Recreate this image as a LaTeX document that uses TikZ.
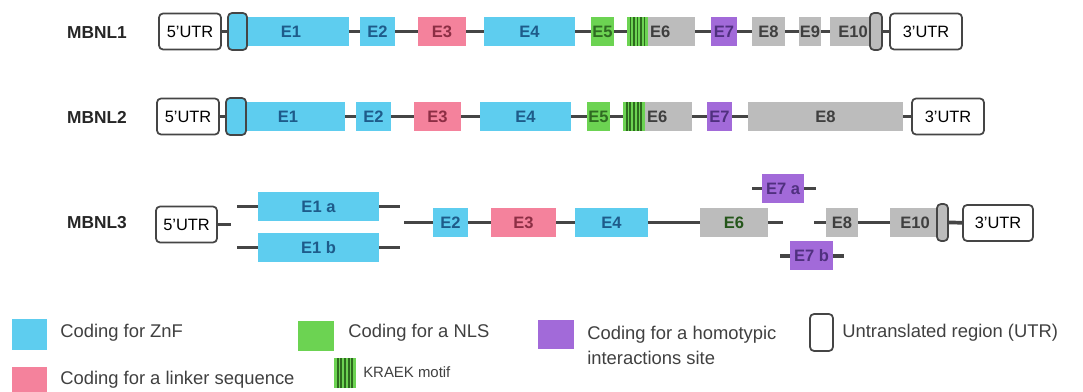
\documentclass[tikz,border=0pt]{standalone}
\usepackage{fontspec}
\setmainfont{Liberation Sans}
\usetikzlibrary{calc}
\definecolor{zfblue}{HTML}{5ECDEF}
\definecolor{zftext}{HTML}{1E5B8A}
\definecolor{lkpink}{HTML}{F4829C}
\definecolor{lktext}{HTML}{8C2E44}
\definecolor{nlsgreen}{HTML}{6CD352}
\definecolor{nlstext}{HTML}{2F6B22}
\definecolor{hmpurple}{HTML}{A26AD9}
\definecolor{hmtext}{HTML}{50307F}
\definecolor{exgray}{HTML}{BCBCBC}
\definecolor{extext}{HTML}{3F3F3F}
\definecolor{stripe}{HTML}{2D6A1E}
\definecolor{linegray}{HTML}{454545}

\begin{document}
\begin{tikzpicture}[
    x=0.75pt, y=-0.75pt,
    wd/.style={minimum width=#1*0.75pt},
    exon/.style={inner sep=0pt, minimum height=21.75pt,
        font=\fontsize{12.4}{14}\selectfont\bfseries},
    zf/.style={exon, fill=zfblue, text=zftext},
    linker/.style={exon, fill=lkpink, text=lktext},
    nls/.style={exon, fill=nlsgreen, text=nlstext},
    homo/.style={exon, fill=hmpurple, text=hmtext},
    other/.style={exon, fill=exgray, text=extext},
    kraek/.style={exon, fill=nlsgreen, path picture={
        \foreach \i in {1,...,5}
            \draw[stripe, line width=1.4pt]
                ($(path picture bounding box.south west)!\i/6!(path picture bounding box.south east)$) --
                ($(path picture bounding box.north west)!\i/6!(path picture bounding box.north east)$);}},
    utr/.style={draw=linegray, line width=1.3pt, rounded corners=3pt, fill=white,
        inner sep=0pt, minimum height=27pt, font=\fontsize{12.3}{14}\selectfont},
    capbox/.style={draw=linegray, line width=1.3pt, rounded corners=3pt,
        inner sep=0pt, minimum height=27.75pt},
    gene/.style={font=\fontsize{13}{15}\selectfont\bfseries, text=black!85},
    intron/.style={draw=linegray, line width=2.8pt},
    legend/.style={anchor=west, inner sep=0pt, text=black!75,
        font=\fontsize{13.8}{18.75}\selectfont, align=left}
]
    \useasboundingbox (0,0) rectangle (1083,392);

    \node[gene] (g1) at (97,33) {MBNL1};
    \node[utr, wd=62] (a5) at (190,31.5) {5'UTR};
    \node[zf, wd=116] (a1) at (291,31.5) {E1};
    \node[capbox, fill=zfblue, wd=19] (ac5) at (237.5,31.5) {};
    \node[zf, wd=35] (a2) at (377.5,31.5) {E2};
    \node[linker, wd=48] (a3) at (442,31.5) {E3};
    \node[zf, wd=91] (a4) at (529.5,31.5) {E4};
    \node[nls, wd=23] (a5e) at (602.5,31.5) {E5};
    \node[kraek, wd=21] (ak) at (637.5,31.5) {};
    \node[other, wd=47, text width=43*0.75pt, align=left] (a6) at (671.5,31.5) {E6};
    \node[homo, wd=26] (a7) at (724,31.5) {E7};
    \node[other, wd=33] (a8) at (768.5,31.5) {E8};
    \node[other, wd=22] (a9) at (810,31.5) {E9};
    \node[other, wd=46] (a10) at (853,31.5) {E10};
    \node[capbox, fill=exgray, wd=12] (ac3) at (876,31.5) {};
    \node[utr, wd=72] (a3u) at (926,31.5) {3'UTR};
    \draw[intron] (a5) -- (ac5);
    \draw[intron] (a1) -- (a2);
    \draw[intron] (a2) -- (a3);
    \draw[intron] (a3) -- (a4);
    \draw[intron] (a4) -- (a5e);
    \draw[intron] (a5e) -- (ak);
    \draw[intron] (a6) -- (a7);
    \draw[intron] (a7) -- (a8);
    \draw[intron] (a8) -- (a9);
    \draw[intron] (a9) -- (a10);
    \draw[intron] (ac3) -- (a3u);

    \node[gene] (g2) at (97,117) {MBNL2};
    \node[utr, wd=62] (b5) at (188,116.5) {5'UTR};
    \node[zf, wd=114] (b1) at (288,116.5) {E1};
    \node[capbox, fill=zfblue, wd=20] (bc5) at (236,116.5) {};
    \node[zf, wd=35] (b2) at (373.5,116.5) {E2};
    \node[linker, wd=47] (b3) at (437.5,116.5) {E3};
    \node[zf, wd=91] (b4) at (525.5,116.5) {E4};
    \node[nls, wd=23] (b5e) at (598.5,116.5) {E5};
    \node[kraek, wd=22] (bk) at (634,116.5) {};
    \node[other, wd=47, text width=43*0.75pt, align=left] (b6) at (668.5,116.5) {E6};
    \node[homo, wd=25] (b7) at (719.5,116.5) {E7};
    \node[other, wd=155] (b8) at (825.5,116.5) {E8};
    \node[utr, wd=72] (b3u) at (948,116.5) {3'UTR};
    \draw[intron] (b5) -- (bc5);
    \draw[intron] (b1) -- (b2);
    \draw[intron] (b2) -- (b3);
    \draw[intron] (b3) -- (b4);
    \draw[intron] (b4) -- (b5e);
    \draw[intron] (b5e) -- (bk);
    \draw[intron] (b6) -- (b7);
    \draw[intron] (b7) -- (b8);
    \draw[intron] (b8) -- (b3u);

    \node[gene] (g3) at (97,223) {MBNL3};
    \node[utr, wd=61] (c5) at (186.5,224.5) {5'UTR};
    \coordinate (c5end) at (231,224.5);
    \node[zf, wd=121] (c1a) at (318.5,206.5) {E1 a};
    \node[zf, wd=121] (c1b) at (318.5,247.5) {E1 b};
    \coordinate (c1ain) at (237,206.5);
    \coordinate (c1aout) at (400,206.5);
    \coordinate (c1bin) at (237,247.5);
    \coordinate (c1bout) at (400,247.5);
    \coordinate (c2in) at (404,222.5);
    \node[zf, wd=35] (c2) at (450.5,222.5) {E2};
    \node[linker, wd=65] (c3) at (523.5,222.5) {E3};
    \node[zf, wd=73] (c4) at (611.5,222.5) {E4};
    \node[other, wd=68, text=nlstext!80!black] (c6) at (734,222.5) {E6};
    \coordinate (c6out) at (783,222.5);
    \node[homo, wd=42] (c7a) at (783,188.5) {E7 a};
    \coordinate (c7ain) at (752,188.5);
    \coordinate (c7aout) at (816,188.5);
    \node[homo, wd=43] (c7b) at (811.5,256) {E7 b};
    \coordinate (c7bin) at (780,256);
    \coordinate (c7bout) at (844,256);
    \coordinate (c8in) at (814,222.5);
    \node[other, wd=32] (c8) at (842,222.5) {E8};
    \node[other, wd=50] (c10) at (915,222.5) {E10};
    \node[capbox, fill=exgray, wd=11] (cc3) at (942.5,222.5) {};
    \node[utr, wd=70] (c3u) at (998,223) {3'UTR};
    \draw[intron] (c5) -- (c5end);
    \draw[intron] (c1ain) -- (c1a);
    \draw[intron] (c1a) -- (c1aout);
    \draw[intron] (c1bin) -- (c1b);
    \draw[intron] (c1b) -- (c1bout);
    \draw[intron] (c2in) -- (c2);
    \draw[intron] (c2) -- (c3);
    \draw[intron] (c3) -- (c4);
    \draw[intron] (c4) -- (c6);
    \draw[intron] (c6) -- (c6out);
    \draw[intron] (c7ain) -- (c7a);
    \draw[intron] (c7a) -- (c7aout);
    \draw[intron] (c7bin) -- (c7b);
    \draw[intron] (c7b) -- (c7bout);
    \draw[intron] (c8in) -- (c8);
    \draw[intron] (c8) -- (c10);
    \draw[intron] (cc3) -- (c3u);

    \node[fill=zfblue, minimum width=26.25pt, minimum height=23.25pt] (lzf) at (29.5,334.5) {};
    \node[legend] (tzf) at (60,333) {Coding for ZnF};
    \node[fill=lkpink, minimum width=26.25pt, minimum height=23.25pt] (llk) at (29.5,382.5) {};
    \node[legend] (tlk) at (60,380) {Coding for a linker sequence};
    \node[fill=nlsgreen, minimum width=27pt, minimum height=22.5pt] (lnls) at (316,336) {};
    \node[legend] (tnls) at (348,333) {Coding for a NLS};
    \node[kraek, minimum width=16.5pt, minimum height=22.5pt] (lk) at (345,373) {};
    \node[legend, font=\fontsize{11.2}{13}\selectfont] (tk) at (363,372) {KRAEK motif};
    \node[fill=hmpurple, minimum width=27pt, minimum height=21.75pt] (lhm) at (556,334.5) {};
    \node[legend] (thm) at (587,345.5) {Coding for a homotypic\\interactions site};
    \node[capbox, fill=white, minimum width=17.25pt] (lutr) at (821.5,332.5) {};
    \node[legend] (tutr) at (842,333) {Untranslated region (UTR)};
\end{tikzpicture}
\end{document}
